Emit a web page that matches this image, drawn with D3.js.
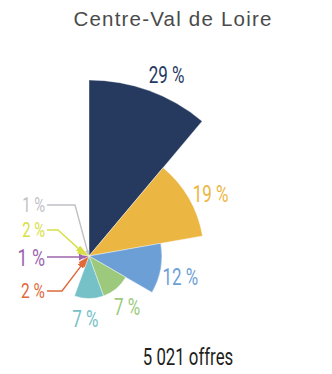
<!DOCTYPE html>
<html>
<head>
<meta charset="utf-8">
<script src="https://cdn.jsdelivr.net/npm/d3@7"></script>
<style>
  html, body { margin: 0; padding: 0; background: #fff; }
  svg { display: block; }
</style>
</head>
<body>
<svg id="chart" width="332" height="374"></svg>
<script>
// Share of job offers by sector (percent), drawn clockwise from 12 o'clock
const categories = ["s1", "s2", "s3", "s4", "s5", "s6", "s7", "s8", "s9"];
const values     = [29, 19, 12, 7, 7, 2, 1, 2, 1];
const labels     = ["29 %", "19 %", "12 %", "7 %", "7 %", "2 %", "1 %", "2 %", "1 %"];
const colors     = ["#263a5f", "#ecb642", "#6c9fd6", "#9cc97c", "#75c1c7",
                    "#e0693a", "#9c65ad", "#d8df45", "#bfc0c4"];
const title = "Centre-Val de Loire";
const total = "5 021 offres";

const svg = d3.select("#chart");
const cx = 89, cy = 256;
const narrowFont = "Roboto, 'Noto Sans', sans-serif";
const squeeze = 0.74;   // horizontal compression for the narrow labels

// every sector gets the same angular width; the radius carries the value
const angle = d3.scaleBand().domain(categories).range([0, 2 * Math.PI]).padding(0);
const radius = d3.scaleLinear().domain([0, 29]).range([0, 176]);

const rows = categories.map((c, i) => ({
  key: c, value: values[i], label: labels[i], color: colors[i],
  a0: angle(c), a1: angle(c) + angle.bandwidth()
}));

const arc = d3.arc()
  .innerRadius(0)
  .outerRadius(d => radius(d.value))
  .startAngle(d => d.a0)
  .endAngle(d => d.a1);

const g = svg.append("g").attr("transform", `translate(${cx},${cy})`);

g.selectAll("path.slice")
  .data(rows)
  .join("path")
  .attr("class", "slice")
  .attr("d", arc)
  .attr("fill", d => d.color)
  .attr("stroke", "#fff")
  .attr("stroke-width", 0.4);

const polar = (a, r) => [Math.sin(a) * r, -Math.cos(a) * r];

// narrow text: placed at (x, y) and compressed horizontally around that point
function narrowText(parent, x, y, str, opts) {
  return parent.append("text")
    .attr("transform", `translate(${x},${y}) scale(${opts.squeeze || squeeze},1)`)
    .attr("text-anchor", opts.anchor || "middle")
    .attr("dominant-baseline", opts.baseline || "central")
    .attr("font-family", narrowFont)
    .attr("font-size", opts.size)
    .attr("fill", opts.fill)
    .text(str);
}

// labels for the large sectors sit just beyond the outer edge, nudged clockwise
rows.filter(d => d.value >= 5).forEach(d => {
  const a = d.a0 + (d.a1 - d.a0) * 0.58;
  const [x, y] = polar(a, radius(d.value) + 21);
  narrowText(g, x, y, d.label, { size: 23, fill: d.color });
});

// small sectors are called out to the left with leader lines
const small = rows.filter(d => d.value < 5);
const callout = {            // label row and elbow of each leader line
  s6: { y: 291, elbow: 62, arrow: true, size: 21 },
  s7: { y: 257, elbow: null, arrow: true, size: 24 },
  s8: { y: 230, elbow: 58, arrow: true, size: 20 },
  s9: { y: 205, elbow: 75, arrow: false, size: 20 }
};

const defs = svg.append("defs");
small.forEach(d => {
  defs.append("marker")
    .attr("id", "arrow-" + d.key)
    .attr("viewBox", "0 0 10 10")
    .attr("refX", 9).attr("refY", 5)
    .attr("markerWidth", 7).attr("markerHeight", 7)
    .attr("markerUnits", "userSpaceOnUse")
    .attr("orient", "auto")
    .append("path")
    .attr("d", "M0,0 L10,5 L0,10 Z")
    .attr("fill", d.color);
});

const labelRight = 45, lineStart = 47;
small.forEach(d => {
  const c = callout[d.key];
  const mid = (d.a0 + d.a1) / 2;
  const tipR = d.key === "s9" ? 2 : Math.max(radius(d.value) * 0.6, 4);
  const [tx, ty] = polar(mid, tipR);
  const tip = [cx + tx, d.key === "s7" ? c.y : cy + ty];
  const pts = [[lineStart, c.y]];
  if (c.elbow !== null) pts.push([c.elbow, c.y]);
  pts.push(tip);
  svg.append("path")
    .attr("d", d3.line()(pts))
    .attr("fill", "none")
    .attr("stroke", d.color)
    .attr("stroke-width", 1.4)
    .attr("marker-end", c.arrow ? `url(#arrow-${d.key})` : null);
  narrowText(svg, labelRight, c.y, d.label, { size: c.size, fill: d.color, anchor: "end" });
});

svg.append("text")
  .attr("x", 173).attr("y", 26)
  .attr("text-anchor", "middle")
  .attr("font-family", "'Liberation Sans', Arial, sans-serif")
  .attr("font-size", 20.5)
  .attr("letter-spacing", 1.2)
  .attr("fill", "#4a4a4a")
  .text(title);

narrowText(svg, 188, 365, total, { size: 24, fill: "#231f20", baseline: "alphabetic", squeeze: 0.7 });
</script>
</body>
</html>
